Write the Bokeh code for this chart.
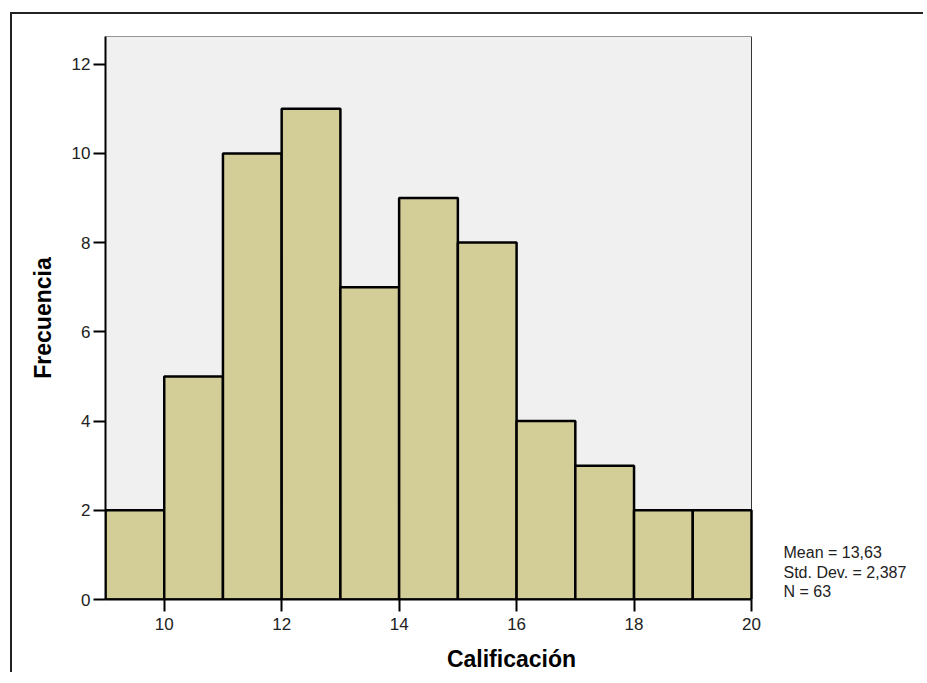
from bokeh.plotting import figure
from bokeh.models import Range1d, FixedTicker
from bokeh.embed import file_html
from bokeh.resources import INLINE
from bokeh.core.properties import value

# ---- data ----
bin_left = [9, 10, 11, 12, 13, 14, 15, 16, 17, 18, 19]
bin_right = [10, 11, 12, 13, 14, 15, 16, 17, 18, 19, 20]
frequency = [2, 5, 10, 11, 7, 9, 8, 4, 3, 2, 2]
x_ticks = [10, 12, 14, 16, 18, 20]
y_ticks = [0, 2, 4, 6, 8, 10, 12]
stats_lines = ["Mean = 13,63", "Std. Dev. = 2,387", "N = 63"]
x_title = "Calificación"
y_title = "Frecuencia"

FONT = "Liberation Sans"

# ---- geometry (pixels) ----
W, H = 913, 660
BL, BT, BB = 93, 22, 75          # left / top / bottom borders
PLOT_W, PLOT_H = 646, 563        # size of the grey plotting area
X0, X1, Y0, Y1 = 9, 20, 0, 12.62  # data extent of the grey area
px_per_x = PLOT_W / (X1 - X0)
px_per_y = PLOT_H / (Y1 - Y0)
frame_w = W - BL - 8
x_end = X0 + frame_w / px_per_x

p = figure(
    width=W, height=H,
    x_range=Range1d(X0, x_end), y_range=Range1d(Y0, Y1),
    output_backend="svg", toolbar_location=None,
    min_border_left=BL, min_border_right=8,
    min_border_top=BT, min_border_bottom=BB,
    background_fill_color="white", border_fill_color="white",
)
p.outline_line_color = None
p.styles = {
    "border-top": "2px solid #222222",
    "border-left": "2px solid #222222",
    "margin-top": "12px",
    "margin-left": "10px",
}
p.xgrid.visible = False
p.ygrid.visible = False

# grey plotting area with thin dark border
p.quad(left=[X0], right=[X1], bottom=[Y0], top=[Y1],
       fill_color="#f0f0f0", line_color="#333333", line_width=1)

# histogram bars
p.quad(left=bin_left, right=bin_right, bottom=0, top=frequency,
       fill_color="#d3cd98", line_color="black", line_width=2.5)

for ax, ticks in ((p.xaxis[0], x_ticks), (p.yaxis[0], y_ticks)):
    ax.ticker = FixedTicker(ticks=ticks)
    ax.axis_line_width = 2
    ax.axis_line_color = "black"
    ax.major_tick_line_width = 2
    ax.major_tick_line_color = "black"
    ax.major_tick_out = 12
    ax.major_tick_in = 0
    ax.minor_tick_out = 0
    ax.minor_tick_in = 0
    ax.major_label_text_font = FONT
    ax.major_label_text_font_size = "17px"
    ax.major_label_text_color = "#222222"
    ax.axis_label_text_font = FONT
    ax.axis_label_text_font_style = "bold"
    ax.axis_label_text_font_size = "23px"
    ax.axis_label_text_color = "black"

p.xaxis.bounds = (X0, X1)
p.xaxis.axis_label = x_title
p.xaxis.major_label_standoff = 6
p.xaxis.axis_label_standoff = 13
p.yaxis.axis_label = y_title
p.yaxis.major_label_standoff = 3
p.yaxis.axis_label_standoff = 13

# statistics text, to the right of the plotting area
text_dx = 32                     # px right of the grey area
baselines_px = [47, 27, 8]       # px above the x axis
stats_x = [X1 + text_dx / px_per_x] * len(stats_lines)
stats_y = [b / px_per_y for b in baselines_px]
p.text(x=stats_x, y=stats_y, text=stats_lines,
       text_font=value(FONT), text_font_size="16px", text_color="#222222",
       text_align="left", text_baseline="alphabetic")

open("out.html", "w").write(file_html(p, INLINE))
